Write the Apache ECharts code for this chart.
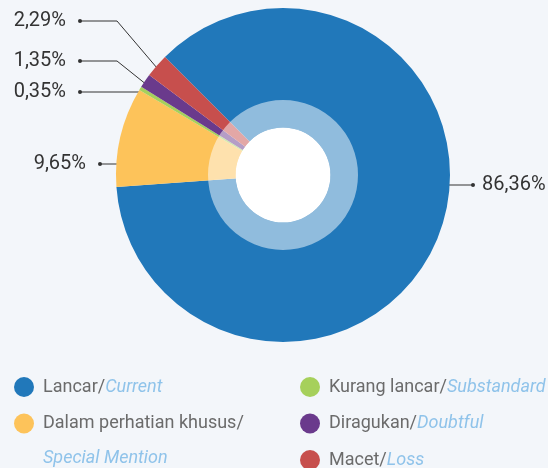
<!DOCTYPE html>
<html>
<head>
<meta charset="utf-8">
<script src="https://cdn.jsdelivr.net/npm/echarts@6/dist/echarts.min.js"></script>
<style>
  html, body { margin: 0; padding: 0; background: #f3f6fa; }
  #chart { width: 548px; height: 468px; }
</style>
</head>
<body>
<div id="chart"></div>
<script>
// data
var namesId = ['Lancar', 'Dalam perhatian khusus', 'Kurang lancar', 'Diragukan', 'Macet'];
var namesEn = ['Current', 'Special Mention', 'Substandard', 'Doubtful', 'Loss'];
var values = [86.36, 9.65, 0.35, 1.35, 2.29];
var colors = ['#2178ba', '#fdc35a', '#a6d05b', '#6a3a8c', '#c74f4d'];

var cx = 283, cy = 175, R = 167;

// label line geometry (styling only): [start, bend, end], end = dot position
var labelGeom = [
  { pts: [[415, 185], [473, 185]], x: 471, align: 'left' },
  { pts: [[158, 164], [100, 164]], x: 102, align: 'right' },
  { pts: [[140, 92], [80, 92]], x: 82, align: 'right' },
  { pts: [[152, 89], [117, 61], [80, 61]], x: 82, align: 'right' },
  { pts: [[163, 75], [117, 21], [80, 21]], x: 82, align: 'right' }
];

var pieData = values.map(function (v, i) {
  return { name: namesId[i], value: v, itemStyle: { color: colors[i] } };
});

function fmt(v) { return v.toFixed(2).replace('.', ',') + '%'; }

var myChart = echarts.init(document.getElementById('chart'));

var option = {
  backgroundColor: '#f3f6fa',
  animation: false,
  legend: [{
    orient: 'vertical', left: 14, top: 377, height: 120, padding: 0,
    itemWidth: 20, itemHeight: 20, itemGap: 16.5, icon: 'circle',
    data: [namesId[0], namesId[1]],
    formatter: legendFmt,
    textStyle: legendText()
  }, {
    orient: 'vertical', left: 300, top: 377, height: 120, padding: 0,
    itemWidth: 20, itemHeight: 20, itemGap: 16.5, icon: 'circle',
    data: [namesId[2], namesId[3], namesId[4]],
    formatter: legendFmt,
    textStyle: legendText()
  }],
  graphic: [{
    type: 'text', left: 43, top: 449,
    style: { text: namesEn[1], fill: '#8fc3ea', font: 'italic 18px Roboto' }
  }],
  series: [{
    type: 'pie',
    center: [cx, cy],
    radius: [0, R],
    startAngle: 135,
    clockwise: true,
    avoidLabelOverlap: false,
    data: pieData,
    label: {
      show: true,
      formatter: function (p) {
        var t = fmt(p.value);
        return p.dataIndex === 0 ? '{d|}{gr|}{v|' + t + '}' : '{v|' + t + '}{gl|}{d|}';
      },
      rich: {
        v: { fontSize: 20, fontFamily: 'Roboto', color: '#333' },
        gl: { width: 12 },
        gr: { width: 7 },
        d: { width: 4, height: 4, borderRadius: 2, backgroundColor: '#333' }
      }
    },
    labelLine: { show: true, lineStyle: { color: '#333', width: 1 } },
    labelLayout: function (p) {
      var g = labelGeom[p.dataIndex];
      var end = g.pts[g.pts.length - 1];
      return {
        x: g.x, y: end[1], align: g.align, verticalAlign: 'middle',
        labelLinePoints: g.pts.length === 3 ? g.pts : [g.pts[0], g.pts[1], g.pts[1]]
      };
    },
    emphasis: { disabled: true }
  }, {
    type: 'pie',
    center: [cx, cy],
    radius: [47.5, 75],
    silent: true,
    label: { show: false },
    labelLine: { show: false },
    data: [{ name: 'ring', value: 1, itemStyle: { color: 'rgba(255,255,255,0.5)' } }]
  }, {
    type: 'pie',
    center: [cx, cy],
    radius: [0, 47.5],
    silent: true,
    label: { show: false },
    labelLine: { show: false },
    data: [{ name: 'hole', value: 1, itemStyle: { color: '#ffffff' } }]
  }]
};

function legendFmt(name) {
  var i = namesId.indexOf(name);
  if (i === 1) return '{a|' + namesId[i] + '/}';
  return '{a|' + namesId[i] + '/}{b|' + namesEn[i] + '}';
}

function legendText() {
  return {
    padding: [0, 0, 0, 4],
    rich: {
      a: { fontSize: 18, fontFamily: 'Roboto', color: '#6b6b6b' },
      b: { fontSize: 18, fontFamily: 'Roboto', fontStyle: 'italic', color: '#8fc3ea' }
    }
  };
}

myChart.setOption(option);
</script>
</body>
</html>
